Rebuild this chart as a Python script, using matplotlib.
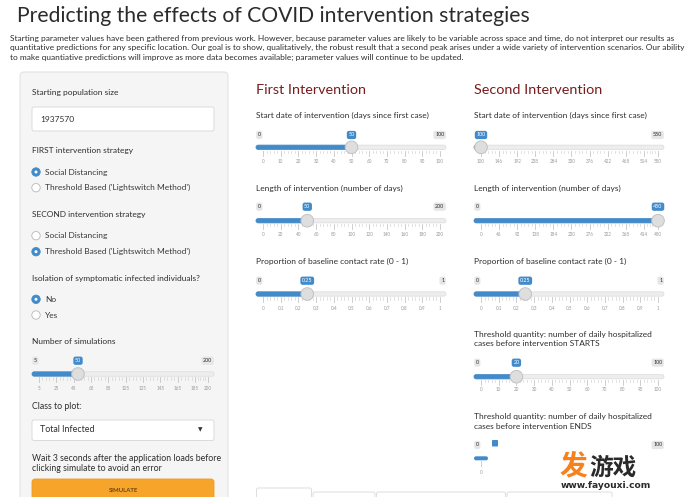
import matplotlib
matplotlib.use("Agg")
import matplotlib.pyplot as plt
from matplotlib.patches import FancyBboxPatch, Circle

plt.rcParams['font.family'] = ['Lato', 'DejaVu Sans']

# ---------------- data ----------------
title_text = "Predicting the effects of COVID intervention strategies"
intro_lines = [
    "Starting parameter values have been gathered from previous work. However, because parameter values are likely to be variable across space and time, do not interpret our results as",
    "quantitative predictions for any specific location. Our goal is to show, qualitatively, the robust result that a second peak arises under a wide variety of intervention scenarios. Our ability",
    "to make quantiative predictions will improve as more data becomes available; parameter values will continue to be updated.",
]

population_label = "Starting population size"
population_value = "1937570"
strategy_options = ["Social Distancing", "Threshold Based ('Lightswitch Method')"]
first_strategy_label = "FIRST intervention strategy"
first_strategy_choice = 0
second_strategy_label = "SECOND intervention strategy"
second_strategy_choice = 1
isolation_label = "Isolation of symptomatic infected individuals?"
isolation_options = ["No", "Yes"]
isolation_choice = 0
sims_label = "Number of simulations"
sims_range = [5, 200]
sims_value = 50
sims_ticks = [5, 25, 45, 65, 85, 105, 125, 145, 165, 185, 200]
class_label = "Class to plot:"
class_value = "Total Infected"
wait_lines = ["Wait 3 seconds after the application loads before",
              "clicking simulate to avoid an error"]
button_text = "SIMULATE"

first_heading = "First Intervention"
second_heading = "Second Intervention"
start_label = "Start date of intervention (days since first case)"
length_label = "Length of intervention (number of days)"
contact_label = "Proportion of baseline contact rate (0 - 1)"

first_start_range = [0, 100]
first_start_value = 50
first_start_ticks = [0, 10, 20, 30, 40, 50, 60, 70, 80, 90, 100]
first_length_range = [0, 200]
first_length_value = 50
first_length_ticks = [0, 20, 40, 60, 80, 100, 120, 140, 160, 180, 200]
contact_range = [0, 1]
first_contact_value = 0.25
contact_ticks = [0, 0.1, 0.2, 0.3, 0.4, 0.5, 0.6, 0.7, 0.8, 0.9, 1]

second_start_range = [100, 550]
second_start_value = 100
second_start_ticks = [100, 146, 192, 238, 284, 330, 376, 422, 468, 514, 550]
second_length_range = [0, 450]
second_length_value = 450
second_length_ticks = [0, 46, 92, 138, 184, 230, 276, 322, 368, 414, 450]
second_contact_value = 0.25

threshold_start_label = ["Threshold quantity: number of daily hospitalized",
                         "cases before intervention STARTS"]
threshold_range = [0, 100]
threshold_start_value = 20
threshold_ticks = [0, 10, 20, 30, 40, 50, 60, 70, 80, 90, 100]
threshold_end_label = ["Threshold quantity: number of daily hospitalized",
                       "cases before intervention ENDS"]
threshold_end_loaded_ticks = [0]

tab_widths = [55, 62, 129, 105]
watermark_big = "发"
watermark_rest = "游戏"
watermark_url = "www.fayouxi.com"

# ---------------- styles ----------------
BLUE = "#428bca"
TXT = "#2e2e2e"
W, H = 700, 497

fig = plt.figure(figsize=(W / 100, H / 100), dpi=100)
ax = fig.add_axes([0, 0, 1, 1])
ax.set_xlim(0, W)
ax.set_ylim(H, 0)
ax.axis('off')
renderer = fig.canvas.get_renderer()


def text_width(s, size, **kw):
    t = ax.text(0, 0, s, fontsize=size, **kw)
    w = t.get_window_extent(renderer).width
    t.remove()
    return w


def fit_size(s, target, **kw):
    return 10 * target / text_width(s, 10, **kw)


def txt(x, y, s, size, color=TXT, ha="left", va="center", **kw):
    return ax.text(x, y, s, fontsize=size, color=color, ha=ha, va=va, **kw)


def fmt(v):
    return f"{v:g}"


FS_TITLE = fit_size(title_text, 512)
FS_INTRO = fit_size(intro_lines[0], 666)
FS_BODY = fit_size(start_label, 172)
FS_HEAD = (fit_size(first_heading, 109) + fit_size(second_heading, 129)) / 2
FS_TICK = 3.3
FS_BOX = 3.9

# ---------------- header ----------------
txt(17, 16.5, title_text, FS_TITLE, color="#2b2b2b")
for i, line in enumerate(intro_lines):
    txt(10, 38.5 + i * 9.4, line, FS_INTRO)


def radio(x, y, checked):
    if checked:
        ax.add_patch(Circle((x, y), 4.2, fc=BLUE, ec=BLUE, lw=0.6, zorder=4))
        ax.add_patch(Circle((x, y), 1.5, fc="white", ec="none", zorder=5))
    else:
        ax.add_patch(Circle((x, y), 4.2, fc="white", ec="#b8b8b8", lw=0.6, zorder=4))


def slider(x0, x1, y_lab, y_trk, y_tick, vrange, value, ticks):
    vmin, vmax = vrange
    sx0, sx1 = x0 + 7, x1 - 6

    def pos(v):
        return sx0 + (v - vmin) / (vmax - vmin) * (sx1 - sx0)

    ax.add_patch(FancyBboxPatch((x0, y_trk - 2.2), x1 - x0, 4.4,
                                boxstyle="round,pad=0,rounding_size=2.2",
                                fc="#ededed", ec="#dcdcdc", lw=0.5, zorder=2))
    px = pos(value)
    ax.add_patch(FancyBboxPatch((x0, y_trk - 2.2), px - x0, 4.4,
                                boxstyle="round,pad=0,rounding_size=2.2",
                                fc=BLUE, ec=BLUE, lw=0.5, zorder=3))
    for i, t in enumerate(ticks):
        xt = pos(t)
        ax.plot([xt, xt], [y_trk + 3.2, y_trk + 8.2], color="#c6c6c6", lw=0.6, zorder=2)
        txt(xt, y_tick, fmt(t), FS_TICK, color="#9a9a9a", ha="center")
        if i < len(ticks) - 1:
            xn = pos(ticks[i + 1])
            for k in range(1, 5):
                xm = xt + (xn - xt) * k / 5
                ax.plot([xm, xm], [y_trk + 3.2, y_trk + 5.6], color="#d4d4d4", lw=0.5, zorder=2)
    ax.add_patch(Circle((px, y_trk), 6.3, fc="#dedede", ec="#c2c2c2", lw=0.7, zorder=6))
    if abs(px - pos(vmin)) > 14:
        txt(x0 + 1.8, y_lab, fmt(vmin), FS_BOX, ha="left",
            bbox=dict(boxstyle="round,pad=0.3,rounding_size=0.4", fc="#e6e6e6", ec="none"))
    if abs(px - pos(vmax)) > 18:
        txt(x1 - 1.8, y_lab, fmt(vmax), FS_BOX, ha="right",
            bbox=dict(boxstyle="round,pad=0.3,rounding_size=0.4", fc="#e6e6e6", ec="none"))
    txt(px, y_lab, fmt(value), FS_BOX, color="white", ha="center",
        bbox=dict(boxstyle="round,pad=0.3,rounding_size=0.4", fc=BLUE, ec="none"), zorder=7)


# ---------------- sidebar ----------------
ax.add_patch(FancyBboxPatch((20, 72), 208, 450, boxstyle="round,pad=0,rounding_size=4",
                            fc="#f5f5f5", ec="#e3e3e3", lw=0.8, zorder=0))
txt(32, 92.5, population_label, FS_BODY)
ax.add_patch(FancyBboxPatch((32, 107), 182, 24, boxstyle="round,pad=0,rounding_size=2",
                            fc="white", ec="#d6d6d6", lw=0.6, zorder=1))
txt(40, 119, population_value, FS_BODY)

txt(32, 151, first_strategy_label, FS_BODY)
for i, opt in enumerate(strategy_options):
    y = 172 + i * 15.7
    radio(36, y, i == first_strategy_choice)
    txt(45, y, opt, FS_BODY, color="#383838")

txt(32, 215, second_strategy_label, FS_BODY)
for i, opt in enumerate(strategy_options):
    y = 235.7 + i * 16
    radio(36, y, i == second_strategy_choice)
    txt(45, y, opt, FS_BODY, color="#383838")

txt(32, 278, isolation_label, FS_BODY)
for i, opt in enumerate(isolation_options):
    y = 299.3 + i * 15.7
    radio(36, y, i == isolation_choice)
    txt(45, y, opt, FS_BODY, color="#383838")

txt(32, 341.5, sims_label, FS_BODY)
slider(32, 214, 360.7, 374, 389, sims_range, sims_value, sims_ticks)

txt(32, 406.5, class_label, FS_BODY * 1.05)
ax.add_patch(FancyBboxPatch((32, 420), 182, 20.5, boxstyle="round,pad=0,rounding_size=2",
                            fc="white", ec="#d6d6d6", lw=0.6, zorder=1))
txt(40, 430, class_value, FS_BODY * 1.07)
txt(200, 430, "▼", 4.2, color="#333333", ha="center")

for i, line in enumerate(wait_lines):
    txt(32, 458.3 + i * 10, line, FS_BODY * 1.05)
ax.add_patch(FancyBboxPatch((32, 479), 182, 30, boxstyle="round,pad=0,rounding_size=3",
                            fc="#f7a52a", ec="#ee9a1c", lw=0.6, zorder=1))
txt(123, 490.5, button_text, 4.3, color="#6e4512", ha="center", fontweight="bold")

# ---------------- intervention columns ----------------
for x0, heading in [(256, first_heading), (474, second_heading)]:
    txt(x0, 89.5, heading, FS_HEAD, color="#7a1c1c")
    txt(x0, 115, start_label, FS_BODY)
    txt(x0, 188, length_label, FS_BODY)
    txt(x0, 261.7, contact_label, FS_BODY)

slider(256, 446, 135, 147.3, 161.7, first_start_range, first_start_value, first_start_ticks)
slider(256, 446, 206.7, 220.7, 235, first_length_range, first_length_value, first_length_ticks)
slider(256, 446, 280.7, 294, 308, contact_range, first_contact_value, contact_ticks)

slider(474, 664, 135, 147.3, 161.7, second_start_range, second_start_value, second_start_ticks)
slider(474, 664, 206.7, 220.7, 235, second_length_range, second_length_value, second_length_ticks)
slider(474, 664, 280.7, 294, 308, contact_range, second_contact_value, contact_ticks)

for i, line in enumerate(threshold_start_label):
    txt(474, 334 + i * 9.4, line, FS_BODY)
slider(474, 664, 362.7, 376.7, 389.3, threshold_range, threshold_start_value, threshold_ticks)

for i, line in enumerate(threshold_end_label):
    txt(474, 416.7 + i * 9.4, line, FS_BODY)
# partially loaded slider
txt(475.8, 445, fmt(threshold_range[0]), FS_BOX, ha="left",
    bbox=dict(boxstyle="round,pad=0.3,rounding_size=0.4", fc="#e6e6e6", ec="none"))
txt(662.2, 445, fmt(threshold_range[1]), FS_BOX, ha="right",
    bbox=dict(boxstyle="round,pad=0.3,rounding_size=0.4", fc="#e6e6e6", ec="none"))
ax.add_patch(FancyBboxPatch((492, 440), 6, 6.5, boxstyle="round,pad=0,rounding_size=0.8",
                            fc=BLUE, ec="none", zorder=3))
ax.add_patch(FancyBboxPatch((474, 456.3), 14, 4, boxstyle="round,pad=0,rounding_size=2",
                            fc=BLUE, ec="none", zorder=3))
for t in threshold_end_loaded_ticks:
    ax.plot([481, 481], [461, 466], color="#c6c6c6", lw=0.6)
    txt(481, 472.3, fmt(t), FS_TICK, color="#9a9a9a", ha="center")

# ---------------- tabs ----------------
x = 256.5
for i, w in enumerate(tab_widths):
    top = 488 if i == 0 else 492
    ax.add_patch(FancyBboxPatch((x, top), w, 20, boxstyle="round,pad=0,rounding_size=2",
                                fc="white", ec="#dddddd", lw=0.7, zorder=1))
    x += w + 1.5

# ---------------- watermark ----------------
wm_fam = ['Noto Sans CJK SC', 'DejaVu Sans']
txt(559, 480.5, watermark_big, 20, color="#f5821f", va="bottom",
    family=wm_fam, fontweight="bold", zorder=8)
txt(589, 479.5, watermark_rest, 17, color="#2a2a2a", va="bottom",
    family=wm_fam, fontweight="bold", zorder=8)
fs_url = fit_size(watermark_url, 90, family=['DejaVu Sans'], fontweight="bold")
txt(605.5, 480.8, watermark_url, fs_url, color="#2a2a2a", ha="center", va="top",
    family=['DejaVu Sans'], fontweight="bold", zorder=8)

fig.savefig("out.png", dpi=100)
